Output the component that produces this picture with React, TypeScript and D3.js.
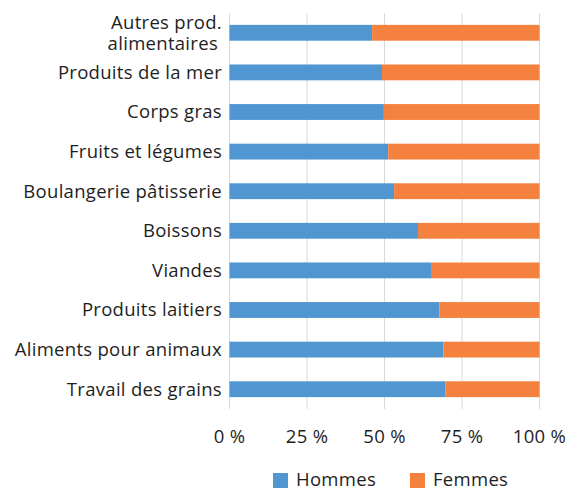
import React, { useEffect, useRef } from 'react';
import * as d3 from 'd3';

const categories = [
  'Autres prod.|alimentaires',
  'Produits de la mer',
  'Corps gras',
  'Fruits et légumes',
  'Boulangerie pâtisserie',
  'Boissons',
  'Viandes',
  'Produits laitiers',
  'Aliments pour animaux',
  'Travail des grains',
];
const hommes = [46.0, 49.2, 49.8, 51.2, 53.1, 60.8, 65.0, 67.7, 69.0, 69.6];
const femmes = hommes.map((h) => 100 - h);
const ticks = [0, 25, 50, 75, 100];
const seriesNames = ['Hommes', 'Femmes'];
const colors = ['#5096d1', '#f5813f'];

const FONT = '"Open Sans", "Noto Sans", sans-serif';
const FS = 18.5;
const LS = 0.3;

const Chart: React.FC = () => {
  const svgRef = useRef<SVGSVGElement>(null);

  useEffect(() => {
    if (!svgRef.current) return;
    const svg = d3.select(svgRef.current);
    svg.selectAll('*').remove();

    const left = 229.5;
    const right = 539.5;
    const top = 13;
    const bottom = 409;

    const x = d3.scaleLinear().domain([0, 100]).range([left, right]);
    const y = d3.scaleBand<number>()
      .domain(d3.range(categories.length))
      .range([top, bottom])
      .paddingInner(0.6)
      .paddingOuter(0.3);

    // gridlines
    svg.append('g')
      .selectAll('line')
      .data(ticks)
      .join('line')
      .attr('x1', (d) => x(d))
      .attr('x2', (d) => x(d))
      .attr('y1', top)
      .attr('y2', bottom)
      .attr('stroke', '#d9d9d9')
      .attr('stroke-width', 1);

    // stacked bars
    const rows = categories.map((c, i) => ({ i, h: hommes[i], f: femmes[i] }));
    const bars = svg.append('g');
    bars.selectAll('rect.h')
      .data(rows)
      .join('rect')
      .attr('class', 'h')
      .attr('x', x(0))
      .attr('y', (d) => y(d.i)!)
      .attr('width', (d) => x(d.h) - x(0))
      .attr('height', y.bandwidth())
      .attr('fill', colors[0]);
    bars.selectAll('rect.f')
      .data(rows)
      .join('rect')
      .attr('class', 'f')
      .attr('x', (d) => x(d.h))
      .attr('y', (d) => y(d.i)!)
      .attr('width', (d) => x(d.h + d.f) - x(d.h))
      .attr('height', y.bandwidth())
      .attr('fill', colors[1]);

    // category labels
    const labels = svg.append('g')
      .attr('font-family', FONT)
      .attr('font-size', FS)
      .attr('letter-spacing', LS)
      .attr('fill', '#1e1e1e')
      .attr('text-anchor', 'end');
    categories.forEach((c, i) => {
      const lines = c.split('|');
      const cy = y(i)! + y.bandwidth() / 2;
      const lh = 21;
      lines.forEach((ln, k) => {
        labels.append('text')
          .attr('x', lines.length > 1 && k === 1 ? 218 : 222)
          .attr('y', cy + (k - (lines.length - 1) / 2) * lh)
          .attr('dy', '0.35em')
          .text(ln);
      });
    });

    // tick labels
    svg.append('g')
      .attr('font-family', FONT)
      .attr('font-size', FS)
      .attr('letter-spacing', LS)
      .attr('fill', '#1e1e1e')
      .attr('text-anchor', 'middle')
      .selectAll('text')
      .data(ticks)
      .join('text')
      .attr('x', (d) => x(d))
      .attr('y', 437)
      .attr('dy', '0.35em')
      .text((d) => `${d} %`);

    // legend
    const legend = svg.append('g')
      .attr('font-family', FONT)
      .attr('font-size', FS)
      .attr('letter-spacing', LS)
      .attr('fill', '#1e1e1e');
    const lx = [273, 410];
    seriesNames.forEach((name, i) => {
      legend.append('rect')
        .attr('x', lx[i])
        .attr('y', 473)
        .attr('width', 15)
        .attr('height', 15)
        .attr('fill', colors[i]);
      legend.append('text')
        .attr('x', lx[i] + 23)
        .attr('y', 480)
        .attr('dy', '0.35em')
        .text(name);
    });
  }, []);

  return <svg ref={svgRef} width={571} height={488} viewBox="0 0 571 488" style={{ display: 'block' }} />;
};

export default function App() {
  return (
    <div style={{ position: 'fixed', top: 0, left: 0, width: 571, height: 488, background: '#fff' }}>
      <Chart />
    </div>
  );
}
